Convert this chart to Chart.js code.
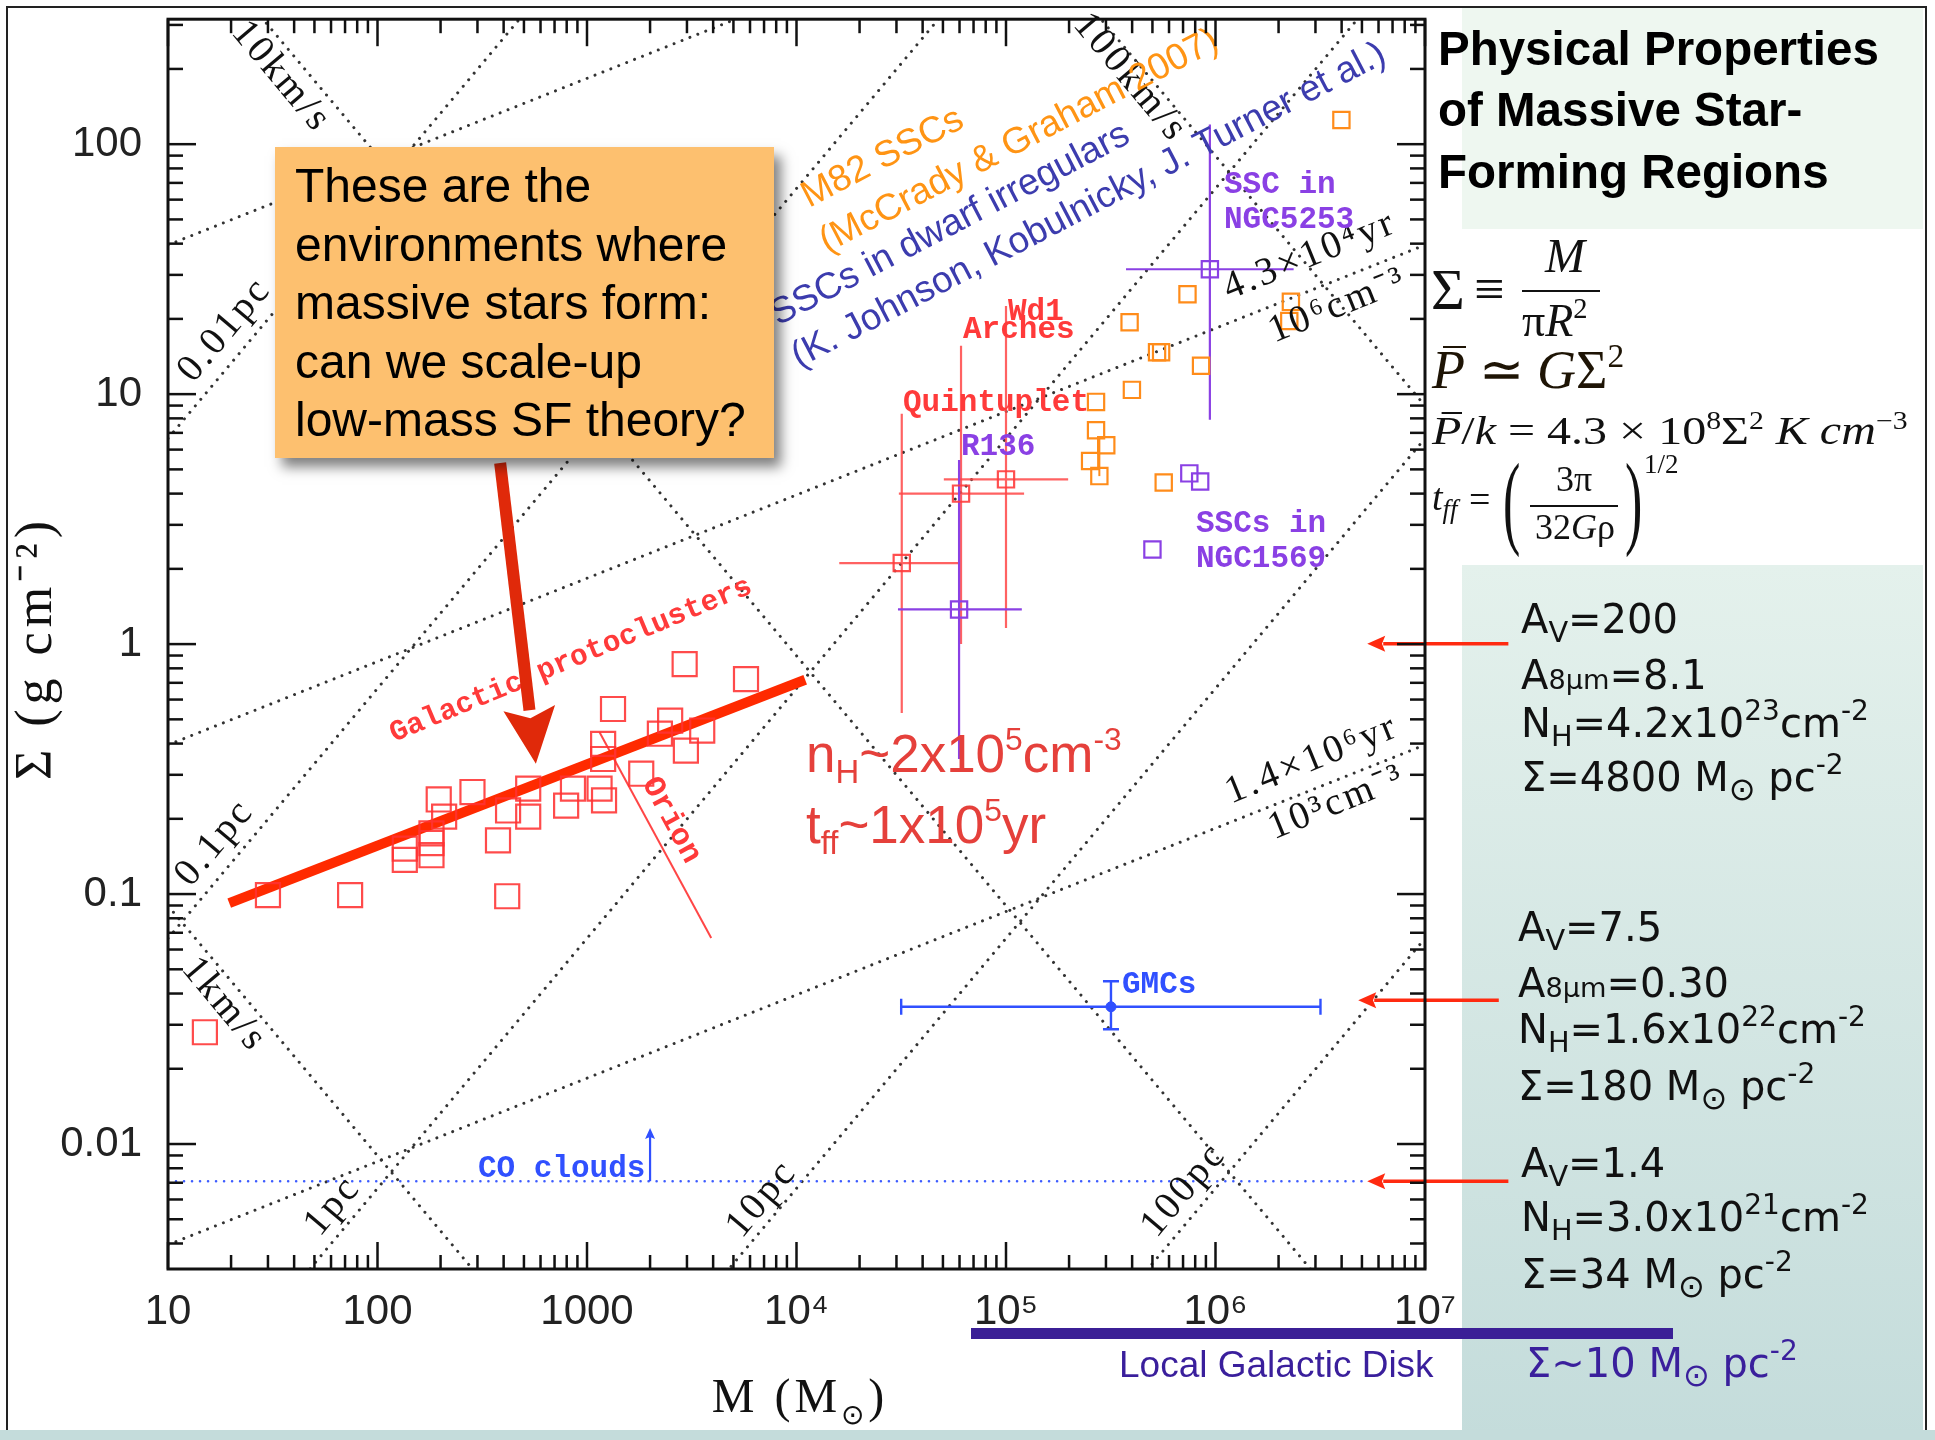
<!DOCTYPE html>
<html>
<head>
<meta charset="utf-8">
<title>Physical Properties of Massive Star-Forming Regions</title>
<script src="https://cdn.jsdelivr.net/npm/chart.js@4.4.1/dist/chart.umd.min.js"></script>
<style>
  html, body { margin: 0; padding: 0; background: #fff; }
  #page { position: relative; width: 1935px; height: 1440px; overflow: hidden; background: #fff; }
  .abs { position: absolute; }
  #titleBox { left: 1462px; top: 8px; width: 461px; height: 221px; background: #eef7f0; z-index: 0; }
  #tealBox { left: 1462px; top: 565px; width: 461px; height: 875px; background: linear-gradient(#e4f1ec, #c4dcdb); z-index: 0; }
  #bottomBand { left: 0; top: 1430px; width: 1935px; height: 10px; background: #c4dcdb; z-index: 0; }
  #frame { left: 6px; top: 6px; width: 1921px; height: 1424px; border: 2px solid #222; border-bottom: none; box-sizing: border-box; z-index: 1; }
  #chart { position: absolute; left: 0; top: 0; z-index: 2; }
  .lbl { position: absolute; white-space: nowrap; z-index: 3; }
  .rule { position: absolute; background: #111; z-index: 3; }
  #callout { position: absolute; left: 275px; top: 147px; width: 499px; height: 311px; background: #fdc06f;
             box-shadow: 7px 9px 12px rgba(0,0,0,0.5); z-index: 4; }
  #callout .lbl { font-family: 'Liberation Sans', Arial, sans-serif; font-size: 48px; color: #000; }
  .title { font-family: 'Liberation Sans', Arial, sans-serif; font-weight: bold; font-size: 47.5px; color: #000; }
  .eq { font-family: 'Liberation Serif', 'Times New Roman', serif; color: #111; }
  .eq i { font-style: italic; }
  .wide { transform: scaleX(1.2); transform-origin: left center; }
  .sup { font-size: 0.62em; vertical-align: 0.62em; line-height: 0; }
  .sub { font-size: 0.7em; vertical-align: -0.3em; line-height: 0; }
  .ov { position: relative; }
  .ov::before { content: ''; position: absolute; left: 0.2em; right: -0.02em; top: 0.12em; border-top: 0.05em solid currentColor; }
  .paren { transform: scaleX(0.5); transform-origin: left bottom; }
  .pan { font-family: 'DejaVu Sans', sans-serif; font-size: 40px; color: #111; }
  .pan .sv { font-size: 0.72em; vertical-align: -0.3em; line-height: 0; }
  .pan .s8 { font-size: 0.68em; line-height: 0; }
  .pan .sp { font-size: 0.7em; vertical-align: 0.6em; line-height: 0; }
  .pan .sun { font-size: 0.8em; vertical-align: -0.28em; line-height: 0; }
  .disk { color: #3a1f9c; }
  .nh { font-family: 'Liberation Sans', Arial, sans-serif; font-size: 53px; color: #e5403b; }
  .nh .sub { font-size: 0.62em; vertical-align: -0.32em; }
  .nh .sup { font-size: 0.6em; vertical-align: 0.7em; }
</style>
</head>
<body>
<div id="page">
  <div class="abs" id="titleBox"></div>
  <div class="abs" id="tealBox"></div>
  <div class="abs" id="bottomBand"></div>
  <div class="abs" id="frame"></div>
  <canvas id="chart" width="1935" height="1440"></canvas>

  <div id="callout">
    <div class="lbl" data-x="20" data-y="56" data-lh="58.5">These are the<br>environments where<br>massive stars form:<br>can we scale-up<br>low-mass SF theory?</div>
  </div>

  <div class="lbl title" data-x="1438" data-y="65" data-lh="61.5">Physical Properties<br>of Massive Star-<br>Forming Regions</div>

  <!-- Σ ≡ M / πR² -->
  <div class="lbl eq" data-x="1431" data-y="309" style="font-size:58px">Σ</div>
  <div class="lbl eq" data-x="1474" data-y="307" style="font-size:54px">≡</div>
  <div class="lbl eq" data-x="1545" data-y="272" style="font-size:48px"><i>M</i></div>
  <div class="rule" style="left:1522px;top:290px;width:78px;height:2px"></div>
  <div class="lbl eq" data-x="1522" data-y="336" style="font-size:46px">π<i>R</i><span class="sup">2</span></div>

  <!-- pressure -->
  <div class="lbl eq" data-x="1432" data-y="388" style="font-size:54px;color:#1e1405"><i class="ov">P</i> ≃ <i>G</i>Σ<span class="sup">2</span></div>
  <div class="lbl eq wide" data-x="1432" data-y="444" style="font-size:40px"><i class="ov">P</i>/<i>k</i> = 4.3 × 10<span class="sup">8</span>Σ<span class="sup">2</span> <i>K cm</i><span class="sup">−3</span></div>

  <!-- free-fall time -->
  <div class="lbl eq" data-x="1432" data-y="510" style="font-size:38px"><i>t</i><span class="sub"><i>ff</i></span></div>
  <div class="lbl eq" data-x="1469" data-y="512" style="font-size:38px">=</div>
  <div class="lbl eq paren" data-x="1503" data-y="535" style="font-size:104px">(</div>
  <div class="lbl eq" data-x="1556" data-y="491" style="font-size:36px">3π</div>
  <div class="rule" style="left:1530px;top:505px;width:88px;height:2px"></div>
  <div class="lbl eq" data-x="1535" data-y="539" style="font-size:36px">32<i>G</i>ρ</div>
  <div class="lbl eq paren" data-x="1625" data-y="535" style="font-size:104px">)</div>
  <div class="lbl eq" data-x="1644" data-y="473" style="font-size:27px">1/2</div>

  <!-- column densities -->
  <div class="lbl pan" data-x="1521" data-y="633">A<span class="sv">V</span>=200</div>
  <div class="lbl pan" data-x="1521" data-y="689">A<span class="s8">8μm</span>=8.1</div>
  <div class="lbl pan" data-x="1521" data-y="737">N<span class="sv">H</span>=4.2x10<span class="sp">23</span>cm<span class="sp">-2</span></div>
  <div class="lbl pan" data-x="1521" data-y="791">Σ=4800 M<span class="sun">⊙</span> pc<span class="sp">-2</span></div>

  <div class="lbl pan" data-x="1518" data-y="941">A<span class="sv">V</span>=7.5</div>
  <div class="lbl pan" data-x="1518" data-y="997">A<span class="s8">8μm</span>=0.30</div>
  <div class="lbl pan" data-x="1518" data-y="1043">N<span class="sv">H</span>=1.6x10<span class="sp">22</span>cm<span class="sp">-2</span></div>
  <div class="lbl pan" data-x="1518" data-y="1100">Σ=180 M<span class="sun">⊙</span> pc<span class="sp">-2</span></div>

  <div class="lbl pan" data-x="1521" data-y="1177">A<span class="sv">V</span>=1.4</div>
  <div class="lbl pan" data-x="1521" data-y="1231">N<span class="sv">H</span>=3.0x10<span class="sp">21</span>cm<span class="sp">-2</span></div>
  <div class="lbl pan" data-x="1521" data-y="1288">Σ=34 M<span class="sun">⊙</span> pc<span class="sp">-2</span></div>

  <div class="abs" style="left:971px;top:1328px;width:702px;height:11px;background:#3b1f96;z-index:3"></div>
  <div class="lbl disk" data-x="1119" data-y="1377" style="font-family:'Liberation Sans',Arial,sans-serif;font-size:37px">Local Galactic Disk</div>
  <div class="lbl pan disk" data-x="1526" data-y="1377">Σ~10 M<span class="sun">⊙</span> pc<span class="sp">-2</span></div>

  <div class="lbl nh" data-x="806" data-y="772">n<span class="sub">H</span>~2x10<span class="sup">5</span>cm<span class="sup">-3</span></div>
  <div class="lbl nh" data-x="806" data-y="843">t<span class="sub">ff</span>~1x10<span class="sup">5</span>yr</div>
</div>

<script>
// ---------------- axis ticks ----------------
const xTickValues = [10, 100, 1000, 1e4, 1e5, 1e6, 1e7];
const xTickLabels = ['10', '100', '1000', '10⁴', '10⁵', '10⁶', '10⁷'];
const yTickValues = [0.01, 0.1, 1, 10, 100];
const yTickLabels = ['0.01', '0.1', '1', '10', '100'];

// ---------------- data: M (Msun), Σ (g cm^-2) ----------------
// Galactic protoclusters
const protoMass  = [15, 30, 74, 416, 135, 135, 181, 181, 181, 196, 208, 284, 376, 420, 524, 524, 857, 795,
                    1148, 1206, 1194, 1194, 1331, 1815, 2228, 2494, 2965, 3548, 2925, 5741];
const protoSigma = [0.028, 0.099, 0.099, 0.098, 0.137, 0.152, 0.143, 0.160, 0.175, 0.239, 0.204, 0.256, 0.164, 0.216, 0.264, 0.204, 0.264, 0.226,
                    0.264, 0.237, 0.399, 0.347, 0.55, 0.303, 0.438, 0.494, 0.375, 0.451, 0.832, 0.724];

// M82 super star clusters
const m82Mass  = [3.99e6, 7.35e5, 2.29e6, 2.25e6, 3.89e5, 5.26e5, 5.5e5, 8.53e5, 3.99e5, 2.69e5, 2.69e5, 3.01e5, 2.52e5, 2.79e5, 5.66e5];
const m82Sigma = [125, 25.1, 23.4, 19.6, 19.4, 14.7, 14.7, 13.0, 10.4, 9.31, 7.17, 6.25, 5.40, 4.70, 4.43];
const m82BarMass = 2.79e5;
const m82BarSigma = [4.70, 6.8];

// SSCs in NGC1569
const n1569Mass  = [7.5e5, 8.45e5, 5.0e5];
const n1569Sigma = [4.82, 4.47, 2.39];

// Milky Way massive clusters
const galClusterNames = ['Quintuplet', 'Arches', 'Wd1'];
const galClusterMass    = [3.18e4, 6.1e4, 1.0e5];
const galClusterSigma   = [2.11, 4.0, 4.56];
const galClusterMassLo  = [1.6e4, 3.08e4, 5.05e4];
const galClusterMassHi  = [6.0e4, 1.22e5, 1.98e5];
const galClusterSigmaLo = [0.53, 1.0, 1.16];
const galClusterSigmaHi = [8.35, 15.6, 22.5];

// R136 and the SSC in NGC5253
const xgClusterNames = ['R136', 'SSC in NGC5253'];
const xgClusterMass    = [5.97e4, 9.4e5];
const xgClusterSigma   = [1.376, 31.6];
const xgClusterMassLo  = [3.05e4, 3.74e5];
const xgClusterMassHi  = [1.19e5, 2.36e6];
const xgClusterSigmaLo = [0.347, 7.9];
const xgClusterSigmaHi = [5.45, 120];

// Giant molecular clouds
const gmcMass = [3.17e5];
const gmcSigma = [0.0354];
const gmcMassRange = [3.16e4, 3.17e6];
const gmcSigmaRange = [0.0288, 0.0448];

// Protocluster trend line and the Orion profile
const fitMass = [19.6, 11000];
const fitSigma = [0.092, 0.72];
const orionMass = [1148, 3917];
const orionSigma = [0.444, 0.0667];

// Reference loci
const radiiPc = [0.01, 0.1, 1, 10, 100];      // constant radius
const escapeKms = [1, 10, 100];               // constant escape speed
const densityCm3 = [1e3, 1e6, 1e9];           // constant n_H

// Surface-density levels quoted in the side panel (Msun pc^-2)
const panelSigmaSun = [4800, 180, 34];
const coCloudSigmaSun = 34;
const coCloudArrowMass = 2000;
const coCloudArrowSigma = [0.0071, 0.0116];
const panelArrowTipMass = [5.3e6, 4.8e6, 5.3e6];
const panelArrowTailMass = [2.5e7, 2.25e7, 2.5e7];
// callout pointer (tail, tip)
const calloutArrowMass = [385, 570];
const calloutArrowSigma = [5.3, 0.332];

// ---------------- physics helpers (cgs) ----------------
const G = 6.674e-8, MSUN = 1.989e33, PC = 3.086e18, MH = 1.6726e-24, MU = 1.4;
const SUN_PC2 = MSUN / (PC * PC);       // g cm^-2 per Msun pc^-2
const sigmaAtRadius  = (m, rpc) => m * MSUN / (Math.PI * (rpc * PC) ** 2);
const sigmaAtEscape  = (m, vkms) => (vkms * 1e5) ** 4 / (4 * Math.PI * G * G * m * MSUN);
const sigmaAtDensity = (m, n) => Math.pow(4 * MU * MH * n / (3 * Math.sqrt(Math.PI)), 2 / 3) * Math.pow(m * MSUN, 1 / 3);

const pts = (xs, ys) => xs.map((x, i) => ({ x, y: ys[i] }));

// ---------------- label styling ----------------
const SERIF = "'Liberation Serif', 'Times New Roman', serif";
const SANS = "'Liberation Sans', Arial, sans-serif";
const MONO = "'Liberation Mono', 'Courier New', monospace";
const PURPLE = '#8a40e4';
const ORANGE = '#ff8c1a';
const BLUE = '#3050ff';

const guideLabels = [
  { t: '10km/s',   x: 281,  y: 77,   a: 50 },
  { t: '100km/s',  x: 1130, y: 78,   a: 50 },
  { t: '1km/s',    x: 224,  y: 1005, a: 50 },
  { t: '0.01pc',   x: 225,  y: 330,  a: -50 },
  { t: '0.1pc',    x: 215,  y: 843,  a: -50 },
  { t: '1pc',      x: 333,  y: 1206, a: -50 },
  { t: '10pc',     x: 762,  y: 1199, a: -50 },
  { t: '100pc',    x: 1184, y: 1190, a: -50 },
  { t: '4.3×10⁴yr', x: 1310, y: 256, a: -22 },
  { t: '10⁶cm⁻³',  x: 1338, y: 306,  a: -22 },
  { t: '1.4×10⁶yr', x: 1312, y: 760, a: -22 },
  { t: '10³cm⁻³',  x: 1337, y: 803,  a: -22 },
];
const sampleLabels = [
  { t: 'Quintuplet', x: 903,  y: 411,  c: '#ff3a3a' },
  { t: 'Arches',     x: 963,  y: 338,  c: '#ff3a3a' },
  { t: 'Wd1',        x: 1008, y: 320,  c: '#ff3a3a' },
  { t: 'R136',       x: 961,  y: 455,  c: PURPLE },
  { t: 'SSC in',     x: 1224, y: 193,  c: PURPLE },
  { t: 'NGC5253',    x: 1224, y: 228,  c: PURPLE },
  { t: 'SSCs in',    x: 1196, y: 532,  c: PURPLE },
  { t: 'NGC1569',    x: 1196, y: 567,  c: PURPLE },
  { t: 'GMCs',       x: 1122, y: 993,  c: BLUE },
  { t: 'CO clouds',  x: 478,  y: 1177, c: BLUE },
  { t: 'Galactic protoclusters', x: 394, y: 742, c: '#ff3a3a', a: -22.6, s: 29.5 },
  { t: 'Orion',      x: 642,  y: 783,  c: '#ff3a3a', a: 61.6 },
];
const sourceLabels = [
  { t: 'M82 SSCs',                 x: 809, y: 208, c: '#ff9414' },
  { t: '(McCrady & Graham 2007)',  x: 827, y: 253, c: '#ff9414' },
  { t: 'SSCs in dwarf irregulars', x: 778, y: 326, c: '#3c3cae' },
  { t: '(K. Johnson, Kobulnicky, J. Turner et al.)', x: 799, y: 368, c: '#3c3cae' },
];

function textAt(ctx, t, x, y, deg, font, color, align, baseline, spacing) {
  ctx.save();
  ctx.translate(x, y);
  ctx.rotate((deg || 0) * Math.PI / 180);
  ctx.font = font;
  ctx.fillStyle = color;
  ctx.textAlign = align || 'left';
  ctx.textBaseline = baseline || 'alphabetic';
  if ('letterSpacing' in ctx) ctx.letterSpacing = (spacing || 0) + 'px';
  ctx.fillText(t, 0, 0);
  ctx.restore();
}

function arrow(ctx, x0, y0, x1, y1, w, headLen, headHalf, color) {
  const ang = Math.atan2(y1 - y0, x1 - x0);
  const bx = x1 - headLen * Math.cos(ang), by = y1 - headLen * Math.sin(ang);
  ctx.save();
  ctx.strokeStyle = color; ctx.fillStyle = color; ctx.lineWidth = w; ctx.lineCap = 'butt';
  ctx.setLineDash([]);
  ctx.beginPath(); ctx.moveTo(x0, y0); ctx.lineTo(bx + 2 * Math.cos(ang), by + 2 * Math.sin(ang)); ctx.stroke();
  ctx.beginPath();
  ctx.moveTo(x1, y1);
  ctx.lineTo(bx - headHalf * Math.sin(ang), by + headHalf * Math.cos(ang));
  ctx.lineTo(bx + headLen * 0.18 * Math.cos(ang), by + headLen * 0.18 * Math.sin(ang));
  ctx.lineTo(bx + headHalf * Math.sin(ang), by - headHalf * Math.cos(ang));
  ctx.closePath(); ctx.fill();
  ctx.restore();
}

function errorBars(ctx, xs, ys, m, s, mlo, mhi, slo, shi, color, lw) {
  ctx.save();
  ctx.strokeStyle = color; ctx.lineWidth = lw; ctx.setLineDash([]);
  const px = xs.getPixelForValue(m), py = ys.getPixelForValue(s);
  ctx.beginPath();
  ctx.moveTo(xs.getPixelForValue(mlo), py); ctx.lineTo(xs.getPixelForValue(mhi), py);
  ctx.moveTo(px, ys.getPixelForValue(slo)); ctx.lineTo(px, ys.getPixelForValue(shi));
  ctx.stroke();
  ctx.restore();
}

const decor = {
  id: 'decor',
  beforeDatasetsDraw(chart) {
    const ctx = chart.ctx, a = chart.chartArea, xs = chart.scales.x, ys = chart.scales.y;
    ctx.save();
    ctx.beginPath(); ctx.rect(a.left, a.top, a.right - a.left, a.bottom - a.top); ctx.clip();

    // reference loci: constant R, constant v_esc, constant n_H
    const loci = [
      ...radiiPc.map(r => m => sigmaAtRadius(m, r)),
      ...escapeKms.map(v => m => sigmaAtEscape(m, v)),
      ...densityCm3.map(n => m => sigmaAtDensity(m, n)),
    ];
    ctx.strokeStyle = '#333'; ctx.lineWidth = 3; ctx.lineCap = 'round'; ctx.setLineDash([0.01, 8.5]);
    loci.forEach(fn => {
      ctx.beginPath();
      ctx.moveTo(xs.getPixelForValue(xs.min), ys.getPixelForValue(fn(xs.min)));
      ctx.lineTo(xs.getPixelForValue(xs.max), ys.getPixelForValue(fn(xs.max)));
      ctx.stroke();
    });

    // CO cloud threshold
    const coY = ys.getPixelForValue(coCloudSigmaSun * SUN_PC2);
    ctx.strokeStyle = '#3d5cff'; ctx.lineWidth = 2.6; ctx.setLineDash([0.01, 8]);
    ctx.beginPath(); ctx.moveTo(xs.getPixelForValue(xs.min), coY); ctx.lineTo(xs.getPixelForValue(panelArrowTipMass[2]), coY); ctx.stroke();
    ctx.restore();

    // error bars
    galClusterMass.forEach((m, i) => errorBars(ctx, xs, ys, m, galClusterSigma[i], galClusterMassLo[i], galClusterMassHi[i],
      galClusterSigmaLo[i], galClusterSigmaHi[i], 'rgba(255,70,70,0.85)', 2.2));
    xgClusterMass.forEach((m, i) => errorBars(ctx, xs, ys, m, xgClusterSigma[i], xgClusterMassLo[i], xgClusterMassHi[i],
      xgClusterSigmaLo[i], xgClusterSigmaHi[i], PURPLE, 2.2));
    // M82 vertical bar
    ctx.save(); ctx.strokeStyle = ORANGE; ctx.lineWidth = 2;
    ctx.beginPath();
    ctx.moveTo(xs.getPixelForValue(m82BarMass), ys.getPixelForValue(m82BarSigma[0]));
    ctx.lineTo(xs.getPixelForValue(m82BarMass), ys.getPixelForValue(m82BarSigma[1]));
    ctx.stroke(); ctx.restore();
    // GMCs with capped bars
    ctx.save(); ctx.strokeStyle = BLUE; ctx.lineWidth = 2.4;
    const gx = xs.getPixelForValue(gmcMass[0]), gy = ys.getPixelForValue(gmcSigma[0]);
    const gx0 = xs.getPixelForValue(gmcMassRange[0]), gx1 = xs.getPixelForValue(gmcMassRange[1]);
    const gy0 = ys.getPixelForValue(gmcSigmaRange[0]), gy1 = ys.getPixelForValue(gmcSigmaRange[1]);
    ctx.beginPath();
    ctx.moveTo(gx0, gy); ctx.lineTo(gx1, gy);
    ctx.moveTo(gx0, gy - 8); ctx.lineTo(gx0, gy + 8);
    ctx.moveTo(gx1, gy - 8); ctx.lineTo(gx1, gy + 8);
    ctx.moveTo(gx, gy0); ctx.lineTo(gx, gy1);
    ctx.moveTo(gx - 8, gy0); ctx.lineTo(gx + 8, gy0);
    ctx.moveTo(gx - 8, gy1); ctx.lineTo(gx + 8, gy1);
    ctx.stroke(); ctx.restore();
  },

  afterDatasetsDraw(chart) {
    const ctx = chart.ctx, xs = chart.scales.x, ys = chart.scales.y;

    guideLabels.forEach(l => textAt(ctx, l.t, l.x, l.y, l.a, '39px ' + SERIF, '#111', 'center', 'middle', 3));
    sampleLabels.forEach(l => textAt(ctx, l.t, l.x, l.y, l.a || 0, 'bold ' + (l.s || 31) + 'px ' + MONO, l.c, 'left', 'alphabetic', 0));
    sourceLabels.forEach(l => textAt(ctx, l.t, l.x, l.y, -27.5, '37px ' + SANS, l.c, 'left', 'alphabetic', 0));

    // CO clouds lower-limit arrow
    arrow(ctx, xs.getPixelForValue(coCloudArrowMass), ys.getPixelForValue(coCloudArrowSigma[0]),
      xs.getPixelForValue(coCloudArrowMass), ys.getPixelForValue(coCloudArrowSigma[1]), 2.2, 11, 5, BLUE);

    // callout pointer
    arrow(ctx, xs.getPixelForValue(calloutArrowMass[0]), ys.getPixelForValue(calloutArrowSigma[0]),
      xs.getPixelForValue(calloutArrowMass[1]), ys.getPixelForValue(calloutArrowSigma[1]), 12, 56, 26, '#e0290a');

    // side-panel pointers at the quoted surface densities
    panelSigmaSun.forEach((s, i) => {
      const y = ys.getPixelForValue(s * SUN_PC2);
      arrow(ctx, xs.getPixelForValue(panelArrowTailMass[i]), y, xs.getPixelForValue(panelArrowTipMass[i]), y, 3.5, 18, 8, '#ff2a10');
    });
  },

  afterDraw(chart) {
    const ctx = chart.ctx, a = chart.chartArea, xs = chart.scales.x, ys = chart.scales.y;
    ctx.save();
    ctx.strokeStyle = '#111'; ctx.lineWidth = 2.5; ctx.setLineDash([]);
    const seg = (x0, y0, x1, y1) => { ctx.beginPath(); ctx.moveTo(x0, y0); ctx.lineTo(x1, y1); ctx.stroke(); };
    for (let d = 1; d <= 7; d++) {
      for (let k = 1; k <= 9; k++) {
        const v = k * Math.pow(10, d);
        if (v > xs.max * 1.0001) break;
        const px = xs.getPixelForValue(v), L = k === 1 ? 27 : 14;
        seg(px, a.bottom, px, a.bottom - L);
        seg(px, a.top, px, a.top + L);
      }
    }
    for (let d = -3; d <= 2; d++) {
      for (let k = 1; k <= 9; k++) {
        const v = k * Math.pow(10, d);
        if (v < ys.min * 0.9999 || v > ys.max * 1.0001) continue;
        const py = ys.getPixelForValue(v), L = k === 1 ? 28 : 15;
        seg(a.left, py, a.left + L, py);
        seg(a.right, py, a.right - L, py);
      }
    }
    ctx.lineWidth = 3;
    ctx.strokeRect(a.left, a.top, a.right - a.left, a.bottom - a.top);
    ctx.restore();

    // axis titles
    ctx.save();
    ctx.fillStyle = '#111';
    ctx.textBaseline = 'alphabetic';
    if ('letterSpacing' in ctx) ctx.letterSpacing = '4px';
    const segs = [
      { t: 'M (M', f: '48px ' + SERIF, dy: 0 },
      { t: '⊙', f: '28px ' + SERIF, dy: 12 },
      { t: ')', f: '48px ' + SERIF, dy: 0 },
    ];
    let w = 0;
    segs.forEach(s => { ctx.font = s.f; s.w = ctx.measureText(s.t).width; w += s.w; });
    let cx = 800 - w / 2;
    segs.forEach(s => { ctx.font = s.f; ctx.fillText(s.t, cx, 1412 + s.dy); cx += s.w; });
    ctx.restore();
    textAt(ctx, 'Σ (g cm⁻²)', 37, 648, -90, '52px ' + SERIF, '#111', 'center', 'middle', 5);
  }
};

const chart = new Chart(document.getElementById('chart'), {
  type: 'scatter',
  data: {
    datasets: [
      { label: 'Galactic protoclusters', data: pts(protoMass, protoSigma), pointStyle: 'rect', pointRadius: 17,
        pointBorderColor: 'rgba(255,50,50,0.88)', pointBackgroundColor: 'transparent', pointBorderWidth: 2.2 },
      { label: 'M82 SSCs', data: pts(m82Mass, m82Sigma), pointStyle: 'rect', pointRadius: 11.5,
        pointBorderColor: ORANGE, pointBackgroundColor: 'transparent', pointBorderWidth: 2.2 },
      { label: 'SSCs in NGC1569', data: pts(n1569Mass, n1569Sigma), pointStyle: 'rect', pointRadius: 11.5,
        pointBorderColor: PURPLE, pointBackgroundColor: 'transparent', pointBorderWidth: 2.2 },
      { label: galClusterNames.join(', '), data: pts(galClusterMass, galClusterSigma), pointStyle: 'rect', pointRadius: 11.5,
        pointBorderColor: 'rgba(255,60,60,0.9)', pointBackgroundColor: 'transparent', pointBorderWidth: 2.2 },
      { label: xgClusterNames.join(', '), data: pts(xgClusterMass, xgClusterSigma), pointStyle: 'rect', pointRadius: 11.5,
        pointBorderColor: PURPLE, pointBackgroundColor: 'transparent', pointBorderWidth: 2.2 },
      { label: 'GMCs', data: pts(gmcMass, gmcSigma), pointStyle: 'circle', pointRadius: 5,
        pointBorderColor: BLUE, pointBackgroundColor: BLUE, pointBorderWidth: 1 },
      { label: 'Protocluster trend', data: pts(fitMass, fitSigma), showLine: true, borderColor: '#ff2a00',
        borderWidth: 10, pointRadius: 0, borderCapStyle: 'butt' },
      { label: 'Orion', data: pts(orionMass, orionSigma), showLine: true, borderColor: 'rgba(255,50,50,0.9)',
        borderWidth: 2, pointRadius: 0 },
    ]
  },
  options: {
    responsive: false,
    animation: false,
    devicePixelRatio: 1,
    layout: { padding: { left: 0, top: 14, right: 510, bottom: 71 } },
    plugins: { legend: { display: false }, tooltip: { enabled: false }, title: { display: false } },
    scales: {
      x: {
        type: 'logarithmic', min: 10, max: 1e7, position: 'bottom',
        afterBuildTicks: s => { s.ticks = xTickValues.map(v => ({ value: v })); },
        afterFit: s => { s.height = 100; s.paddingLeft = 0; s.paddingRight = 0; },
        grid: { display: false, drawTicks: false },
        border: { display: false },
        ticks: { autoSkip: false, maxRotation: 0, minRotation: 0, padding: 18, color: '#222',
                 font: { family: SANS, size: 42 }, callback: (v, i) => xTickLabels[i] }
      },
      y: {
        type: 'logarithmic', min: Math.pow(10, -2.5), max: Math.pow(10, 2.5), position: 'left',
        afterBuildTicks: s => { s.ticks = yTickValues.map(v => ({ value: v })); },
        afterFit: s => { s.width = 168; s.paddingTop = 0; s.paddingBottom = 0; },
        grid: { display: false, drawTicks: false },
        border: { display: false },
        ticks: { autoSkip: false, padding: 26, color: '#222',
                 font: { family: SANS, size: 42 }, callback: (v, i) => yTickLabels[i] }
      }
    }
  },
  plugins: [decor]
});

// place HTML labels by their baseline
(function placeLabels() {
  const mctx = document.createElement('canvas').getContext('2d');
  document.querySelectorAll('.lbl[data-x]').forEach(el => {
    const cs = getComputedStyle(el);
    const fs = parseFloat(cs.fontSize);
    mctx.font = `${cs.fontStyle} ${cs.fontWeight} ${cs.fontSize} ${cs.fontFamily}`;
    const m = mctx.measureText('Hg');
    const asc = m.fontBoundingBoxAscent, desc = m.fontBoundingBoxDescent;
    const lh = el.dataset.lh ? parseFloat(el.dataset.lh) : fs;
    el.style.lineHeight = lh + 'px';
    el.style.left = el.dataset.x + 'px';
    el.style.top = (parseFloat(el.dataset.y) - ((lh - asc - desc) / 2 + asc)) + 'px';
  });
})();
</script>
</body>
</html>
